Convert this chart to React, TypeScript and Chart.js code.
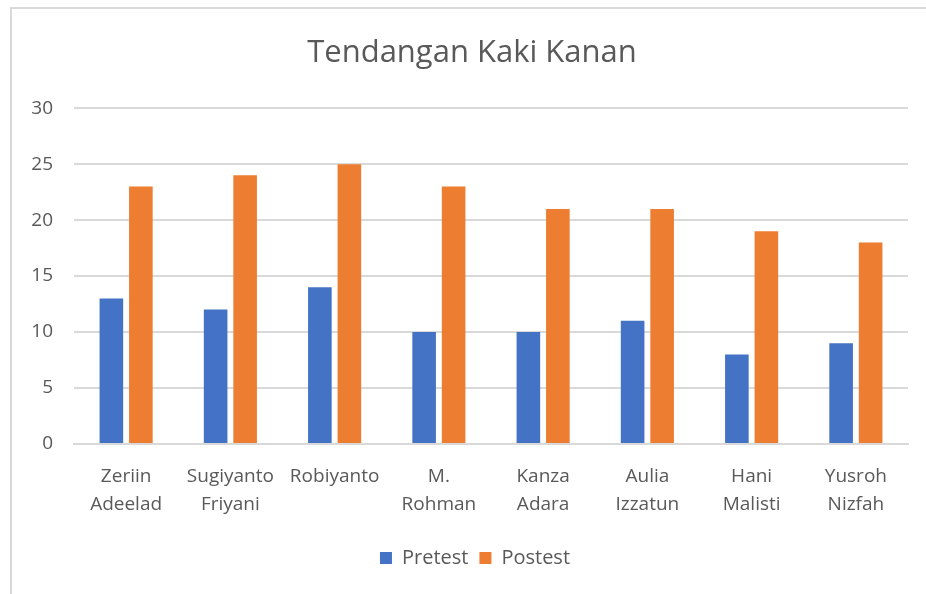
import React, { useEffect, useRef } from "react";
import { Chart, registerables } from "chart.js";

Chart.register(...registerables);

const categories: (string | string[])[] = [
  ["Zeriin", "Adeelad"],
  ["Sugiyanto", "Friyani"],
  "Robiyanto",
  ["M.", "Rohman"],
  ["Kanza", "Adara"],
  ["Aulia", "Izzatun"],
  ["Hani", "Malisti"],
  ["Yusroh", "Nizfah"],
];
const pretest = [13, 12, 14, 10, 10, 11, 8, 9];
const postest = [23, 24, 25, 23, 21, 21, 19, 18];
const titleText = "Tendangan Kaki Kanan";

const FONT = "'Open Sans', Lato, sans-serif";
const TEXT = "#595959";

const shiftBlocks = {
  id: "shiftBlocks",
  afterLayout(chart: any) {
    if (chart.legend) {
      chart.legend.left += 15;
      chart.legend.right += 15;
    }
    if (chart.titleBlock) {
      chart.titleBlock.left += 12;
      chart.titleBlock.right += 12;
    }
  },
};

export default function App() {
  const ref = useRef<HTMLCanvasElement | null>(null);
  useEffect(() => {
    if (!ref.current) return;
    const chart = new Chart(ref.current, {
      type: "bar",
      data: {
        labels: categories,
        datasets: [
          {
            label: "Pretest",
            data: pretest,
            backgroundColor: "#4472C4",
            categoryPercentage: 0.566,
            barPercentage: 0.8,
          },
          {
            label: "Postest",
            data: postest,
            backgroundColor: "#ED7D31",
            categoryPercentage: 0.566,
            barPercentage: 0.8,
          },
        ],
      },
      plugins: [shiftBlocks],
      options: {
        animation: false,
        responsive: false,
        maintainAspectRatio: false,
        layout: { padding: { left: 0, right: 18, top: 0, bottom: 16 } },
        plugins: {
          title: {
            display: true,
            text: titleText,
            color: TEXT,
            font: { family: FONT, size: 31, weight: "normal" },
            padding: { top: 26, bottom: 36 },
          },
          legend: {
            position: "bottom",
            labels: {
              color: TEXT,
              font: { family: FONT, size: 20 },
              boxWidth: 12,
              boxHeight: 12,
              padding: 11,
            },
          },
          tooltip: { enabled: false },
        },
        scales: {
          x: {
            grid: { display: false, drawTicks: false },
            border: { display: true, color: "#d9d9d9", width: 2 },
            ticks: {
              color: TEXT,
              font: { family: FONT, size: 19, lineHeight: 1.45 },
              padding: 19,
              maxRotation: 0,
              autoSkip: false,
            },
          },
          y: {
            min: 0,
            max: 30,
            afterFit: (s: any) => {
              s.width = 62;
            },
            grid: { color: "#d9d9d9", lineWidth: 2, drawTicks: false },
            border: { display: false },
            ticks: {
              stepSize: 5,
              color: TEXT,
              font: { family: FONT, size: 19 },
              padding: 21,
            },
          },
        },
      },
    });
    return () => chart.destroy();
  }, []);

  return (
    <div
      style={{
        position: "fixed",
        left: 0,
        top: 0,
        width: 926,
        height: 594,
        overflow: "hidden",
        background: "#fff",
      }}
    >
      <div
        style={{
          position: "absolute",
          left: 10,
          top: 7,
          width: 940,
          height: 620,
          borderLeft: "2px solid #d9d9d9",
          borderTop: "2px solid #d9d9d9",
        }}
      />
      <canvas
        ref={ref}
        width={914}
        height={585}
        style={{ position: "absolute", left: 12, top: 9, width: 914, height: 585 }}
      />
    </div>
  );
}
